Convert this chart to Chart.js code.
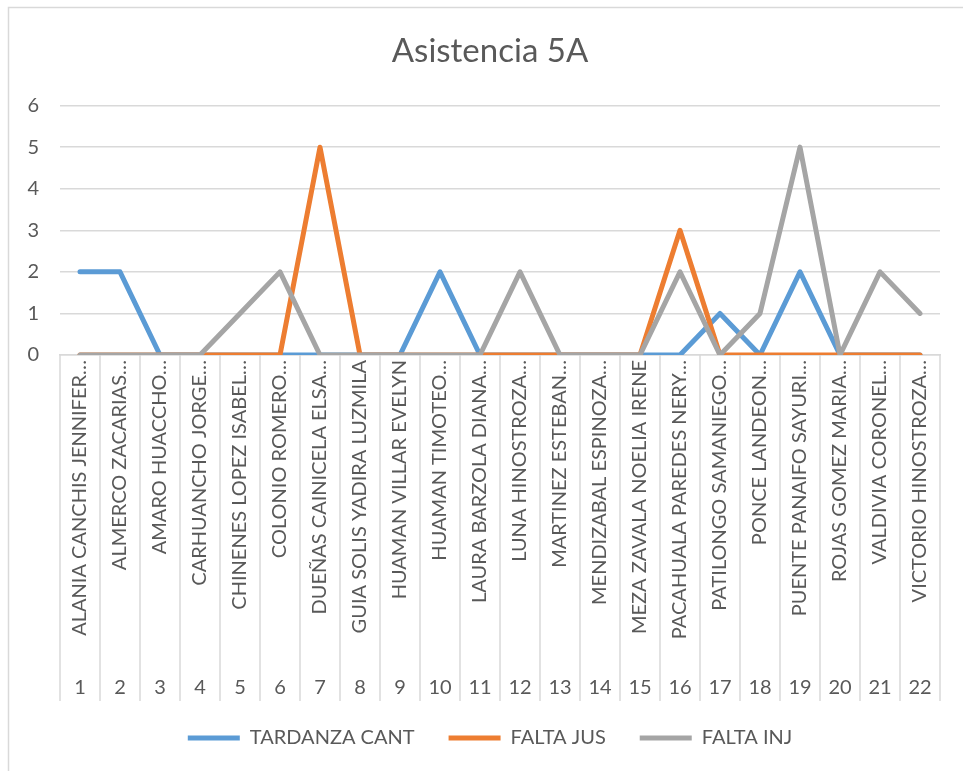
<!DOCTYPE html>
<html>
<head>
<meta charset="utf-8">
<script src="https://cdn.jsdelivr.net/npm/chart.js@4.4.1/dist/chart.umd.min.js"></script>
<style>
  html, body { margin: 0; padding: 0; background: #ffffff; overflow: hidden; }
  #wrap { position: absolute; left: 0; top: 0; width: 980px; height: 771px; }
</style>
</head>
<body>
<div id="wrap"><canvas id="c" width="980" height="771"></canvas></div>
<script>
const chartTitle = 'Asistencia 5A';
const studentNames = [
  'ALANIA CANCHIS JENNIFER…',
  'ALMERCO ZACARIAS…',
  'AMARO HUACCHO…',
  'CARHUANCHO JORGE…',
  'CHINENES LOPEZ ISABEL…',
  'COLONIO ROMERO…',
  'DUEÑAS CAINICELA ELSA…',
  'GUIA SOLIS YADIRA LUZMILA',
  'HUAMAN VILLAR EVELYN',
  'HUAMAN TIMOTEO…',
  'LAURA BARZOLA DIANA…',
  'LUNA HINOSTROZA…',
  'MARTINEZ ESTEBAN…',
  'MENDIZABAL ESPINOZA…',
  'MEZA ZAVALA NOELIA IRENE',
  'PACAHUALA PAREDES NERY…',
  'PATILONGO SAMANIEGO…',
  'PONCE LANDEON…',
  'PUENTE PANAIFO SAYURI…',
  'ROJAS GOMEZ MARIA…',
  'VALDIVIA CORONEL…',
  'VICTORIO HINOSTROZA…'
];
const studentNumbers = ['1','2','3','4','5','6','7','8','9','10','11','12','13','14','15','16','17','18','19','20','21','22'];
const seriesNames = ['TARDANZA CANT', 'FALTA JUS', 'FALTA INJ'];
const tardanzaCant = [2,2,0,0,0,0,0,0,0,2,0,0,0,0,0,0,1,0,2,0,0,0];
const faltaJus     = [0,0,0,0,0,0,5,0,0,0,0,0,0,0,0,3,0,0,0,0,0,0];
const faltaInj     = [0,0,0,0,1,2,0,0,0,0,0,2,0,0,0,2,0,1,5,0,2,1];
const yTicks = [0,1,2,3,4,5,6];

const TEXT = '#595959';
const GRID = '#d9d9d9';
const FONT = 'Lato';

const separators = {
  id: 'separators',
  beforeDraw(chart) {
    const ctx = chart.ctx;
    ctx.save();
    ctx.strokeStyle = GRID;
    ctx.lineWidth = 1.5;
    ctx.strokeRect(8.5, 7.5, 1200, 1200);
    ctx.restore();
  },
  afterDraw(chart) {
    const xs = chart.scales.x, x2 = chart.scales.x2;
    const ctx = chart.ctx;
    const n = studentNames.length;
    const step = xs.getPixelForValue(1) - xs.getPixelForValue(0);
    ctx.save();
    ctx.strokeStyle = GRID;
    ctx.lineWidth = 1.5;
    ctx.beginPath();
    for (let i = 0; i <= n; i++) {
      const px = (i < n ? xs.getPixelForValue(i) - step / 2 : xs.getPixelForValue(n - 1) + step / 2);
      ctx.moveTo(px, xs.top);
      ctx.lineTo(px, x2.top + 46);
    }
    ctx.stroke();
    ctx.restore();
  }
};

const colors = ['#5B9BD5', '#ED7D31', '#A5A5A5'];
const values = [tardanzaCant, faltaJus, faltaInj];

new Chart(document.getElementById('c'), {
  type: 'line',
  data: {
    labels: studentNames,
    datasets: values.map((v, i) => ({
      label: seriesNames[i],
      data: v,
      borderColor: colors[i],
      backgroundColor: colors[i],
      borderWidth: 5,
      borderCapStyle: 'round',
      borderJoinStyle: 'round',
      pointRadius: 0,
      pointHoverRadius: 0,
      tension: 0,
      fill: false,
      order: 2 - i,
      xAxisID: 'x',
      yAxisID: 'y'
    }))
  },
  options: {
    responsive: false,
    animation: false,
    events: [],
    layout: { padding: { left: 0, right: 0, top: 0, bottom: 13 } },
    plugins: {
      tooltip: { enabled: false },
      title: {
        display: true,
        text: chartTitle,
        color: TEXT,
        font: { family: FONT, size: 33, weight: 'normal' },
        padding: { top: 32, bottom: 34 }
      },
      legend: {
        display: true,
        position: 'bottom',
        labels: {
          color: TEXT,
          font: { family: FONT, size: 20 },
          usePointStyle: true,
          pointStyle: 'line',
          pointStyleWidth: 52,
          boxHeight: 20,
          padding: 34,
          sort: (a, b) => a.datasetIndex - b.datasetIndex
        }
      }
    },
    scales: {
      y: {
        min: 0,
        max: 6,
        afterBuildTicks: (s) => { s.ticks = yTicks.map(v => ({ value: v })); },
        afterFit: (s) => { s.width = 60; },
        grid: { color: GRID, lineWidth: 1.5, drawTicks: false },
        border: { display: false },
        ticks: { color: TEXT, font: { family: FONT, size: 20 }, padding: 21 }
      },
      yRight: {
        position: 'right',
        display: true,
        afterFit: (s) => { s.width = 40; },
        grid: { display: false, drawTicks: false },
        border: { display: false },
        ticks: { display: false }
      },
      x: {
        type: 'category',
        position: 'bottom',
        offset: true,
        afterFit: (s) => { s.height = 300; },
        grid: { display: true, drawOnChartArea: false, drawTicks: false, offset: true },
        border: { display: true, color: GRID, width: 1.5 },
        ticks: { color: TEXT, font: { family: FONT, size: 20 }, autoSkip: false, minRotation: 90, maxRotation: 90, padding: 5 }
      },
      x2: {
        type: 'category',
        position: 'bottom',
        labels: studentNumbers,
        offset: true,
        afterFit: (s) => { s.height = 39; },
        grid: { display: false },
        border: { display: false },
        ticks: { color: TEXT, font: { family: FONT, size: 20 }, autoSkip: false, maxRotation: 0, minRotation: 0, padding: 13 }
      }
    }
  },
  plugins: [separators]
});
</script>
</body>
</html>
